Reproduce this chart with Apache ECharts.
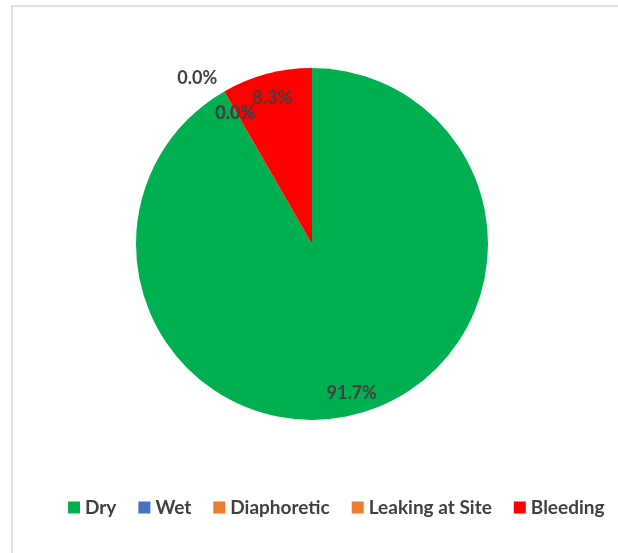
<!DOCTYPE html>
<html>
<head>
<meta charset="utf-8">
<script src="https://cdn.jsdelivr.net/npm/echarts@6/dist/echarts.min.js"></script>
<style>
  html, body { margin: 0; padding: 0; background: #fff; }
  #chart { width: 618px; height: 553px; }
</style>
</head>
<body>
<div id="chart"></div>
<script>
// categories and their share (%)
const categories = ['Dry', 'Wet', 'Diaphoretic', 'Leaking at Site', 'Bleeding'];
const percents = [91.7, 0, 0, 0, 8.3];
const colors = ['#00B050', '#4472C4', '#ED7D31', '#ED7D31', '#FF0000'];

const chart = echarts.init(document.getElementById('chart'));

const pieData = categories.map((name, i) => ({
  name,
  value: percents[i],
  itemStyle: { color: colors[i] }
}));

const labelFont = {
  fontFamily: 'Lato, "Open Sans", sans-serif',
  fontSize: 18,
  fontWeight: 'bold',
  color: '#404040'
};

chart.setOption({
  animation: false,
  backgroundColor: '#fff',
  graphic: [{
    type: 'rect',
    shape: { x: 12, y: 6, width: 700, height: 700 },
    style: { fill: 'none', stroke: '#d9d9d9', lineWidth: 1.5 },
    silent: true
  }],
  legend: {
    data: categories,
    top: 493,
    left: 63,
    icon: 'rect',
    itemWidth: 12,
    itemHeight: 12,
    itemGap: 22,
    textStyle: {
      fontFamily: 'Lato, "Open Sans", sans-serif',
      fontSize: 19,
      fontWeight: 'bold',
      color: '#404040'
    }
  },
  series: [
    {
      type: 'pie',
      center: [312, 244],
      radius: [0, 176],
      startAngle: 90,
      clockwise: true,
      silent: true,
      label: { show: false },
      labelLine: { show: false },
      data: pieData
    },
    {
      // transparent ring used only to place the labels near the rim
      type: 'pie',
      center: [312, 244],
      radius: [126, 176],
      startAngle: 90,
      clockwise: true,
      silent: true,
      legendHoverLink: false,
      itemStyle: { color: 'rgba(0,0,0,0)' },
      label: Object.assign({
        show: true,
        position: 'inside',
        formatter: (p) => p.value.toFixed(1) + '%'
      }, labelFont),
      labelLine: { show: false },
      labelLayout: (params) => {
        if (params.dataIndex === 1) return { dx: -38, dy: -32 };
        if (params.dataIndex > 1) return { dy: 3 };
        return {};
      },
      data: categories.map((name, i) => ({
        name,
        value: percents[i],
        itemStyle: { color: 'rgba(0,0,0,0)' }
      }))
    }
  ]
});
</script>
</body>
</html>
